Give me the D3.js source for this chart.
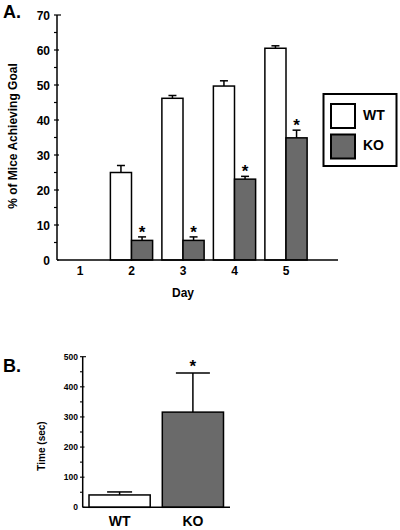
<!DOCTYPE html>
<html><head><meta charset="utf-8">
<script src="https://cdn.jsdelivr.net/npm/d3@7"></script>
<style>body{margin:0;background:#fff}svg{display:block}text{font-family:Arial,"Liberation Sans",Helvetica,sans-serif;font-weight:bold;fill:#000}</style>
</head><body><svg id="c" width="400" height="530"></svg>
<script>
// Panel A data
const days = ["1","2","3","4","5"];
const series = ["WT","KO"];
const wtMean = [0, 25, 46.2, 49.7, 60.5];
const wtErr  = [0, 2, 0.8, 1.5, 0.7];
const koMean = [0, 5.6, 5.6, 23.1, 34.9];
const koErr  = [0, 1, 1, 0.8, 2.2];
const koSig  = [false, true, true, true, true];
const aTicks = [0,10,20,30,40,50,60,70];
const aMinor = [5,15,25,35,45,55,65];
// Panel B data
const groups = ["WT","KO"];
const timeMean = [41, 316];
const timeErr  = [10, 130];
const timeSig  = [false, true];
const bTicks = [0,100,200,300,400,500];
const bMinor = [50,150,250,350,450];

const fills = {WT:"#ffffff", KO:"#6a6a6a"};
const svg = d3.select("#c");

// ---------- Panel A ----------
const A = svg.append("g");
const yA = d3.scaleLinear().domain([0,70]).range([260,15]);
const xA = d3.scaleBand().domain(days).range([54.25,311.75]).paddingInner(0.18).paddingOuter(0.09);
const xAi = d3.scaleBand().domain(series).range([0, xA.bandwidth()]);

A.append("text").attr("x",3).attr("y",18).attr("font-size",18).text("A.");

const rowsA = [];
days.forEach((d,i)=>{
  rowsA.push({day:d, s:"WT", v:wtMean[i], e:wtErr[i], sig:false});
  rowsA.push({day:d, s:"KO", v:koMean[i], e:koErr[i], sig:koSig[i]});
});
const drawnA = rowsA.filter(r=>r.v>0);
// error bars (upper only)
drawnA.forEach(r=>{
  const cx = xA(r.day)+xAi(r.s)+xAi.bandwidth()/2;
  const top = yA(r.v+r.e);
  A.append("line").attr("x1",cx).attr("x2",cx).attr("y1",yA(r.v)).attr("y2",top).attr("stroke","#000").attr("stroke-width",1.5);
  A.append("line").attr("x1",cx-4).attr("x2",cx+4).attr("y1",top).attr("y2",top).attr("stroke","#000").attr("stroke-width",1.5);
  if(r.sig) A.append("text").attr("x",cx).attr("y",top+1).attr("text-anchor","middle").attr("font-size",17).text("*");
});
A.selectAll("rect.bar").data(drawnA).join("rect")
  .attr("x",r=>xA(r.day)+xAi(r.s)).attr("width",xAi.bandwidth())
  .attr("y",r=>yA(r.v)).attr("height",r=>yA(0)-yA(r.v))
  .attr("fill",r=>fills[r.s]).attr("stroke","#000").attr("stroke-width",1.5);

// axes
A.append("line").attr("x1",57).attr("x2",57).attr("y1",yA(70)).attr("y2",yA(0)).attr("stroke","#000").attr("stroke-width",1.5);
A.append("line").attr("x1",57).attr("x2",338).attr("y1",yA(0)).attr("y2",yA(0)).attr("stroke","#000").attr("stroke-width",1.5);
aTicks.forEach(t=>{
  A.append("line").attr("x1",t===0?57:54).attr("x2",t===70?61:59).attr("y1",yA(t)).attr("y2",yA(t)).attr("stroke","#000").attr("stroke-width",1.2);
  A.append("text").attr("x",50).attr("y",yA(t)+4.5).attr("text-anchor","end").attr("font-size",12).text(t);
});
aMinor.forEach(t=>{
  A.append("line").attr("x1",54).attr("x2",57).attr("y1",yA(t)).attr("y2",yA(t)).attr("stroke","#000").attr("stroke-width",1.2);
});
days.forEach(d=>{
  A.append("text").attr("x",xA(d)+xA.bandwidth()/2).attr("y",275).attr("text-anchor","middle").attr("font-size",12).text(d);
});
A.append("text").attr("x",183).attr("y",297).attr("text-anchor","middle").attr("font-size",12).text("Day");
A.append("text").attr("transform","translate(17,136) rotate(-90)").attr("text-anchor","middle").attr("font-size",12).text("% of Mice Achieving Goal");

// legend
const L = A.append("g");
L.append("rect").attr("x",323.5).attr("y",94).attr("width",73).attr("height",72).attr("fill","#fff").attr("stroke","#000").attr("stroke-width",2);
series.forEach((s,i)=>{
  const y0 = 104 + i*30.5;
  L.append("rect").attr("x",331).attr("y",y0).attr("width",24).attr("height",24).attr("fill",fills[s]).attr("stroke","#000").attr("stroke-width",2);
  L.append("text").attr("x",363).attr("y",y0+15.5).attr("font-size",14).text(s);
});

// ---------- Panel B ----------
const B = svg.append("g");
const yB = d3.scaleLinear().domain([0,500]).range([507.3,356.7]);
const xB = d3.scaleBand().domain(groups).range([89,223.5]).paddingInner(0.165).paddingOuter(0);

B.append("text").attr("x",3).attr("y",372).attr("font-size",18).text("B.");

const rowsB = groups.map((g,i)=>({g, v:timeMean[i], e:timeErr[i], sig:timeSig[i]}));
rowsB.forEach(r=>{
  const cx = xB(r.g)+xB.bandwidth()/2;
  const top = yB(r.v+r.e);
  const cw = r.g==="KO"?17:12.5;
  B.append("line").attr("x1",cx).attr("x2",cx).attr("y1",yB(r.v)).attr("y2",top).attr("stroke","#000").attr("stroke-width",1.5);
  B.append("line").attr("x1",cx-cw).attr("x2",cx+cw).attr("y1",top).attr("y2",top).attr("stroke","#000").attr("stroke-width",1.5);
  if(r.sig) B.append("text").attr("x",cx).attr("y",top-0.5).attr("text-anchor","middle").attr("font-size",17).text("*");
});
B.selectAll("rect.bar").data(rowsB).join("rect")
  .attr("x",r=>xB(r.g)).attr("width",xB.bandwidth())
  .attr("y",r=>yB(r.v)).attr("height",r=>yB(0)-yB(r.v))
  .attr("fill",r=>fills[r.g]).attr("stroke","#000").attr("stroke-width",1.5);

B.append("line").attr("x1",82.7).attr("x2",82.7).attr("y1",yB(500)).attr("y2",yB(0)).attr("stroke","#000").attr("stroke-width",1.5);
B.append("line").attr("x1",82.7).attr("x2",230).attr("y1",yB(0)).attr("y2",yB(0)).attr("stroke","#000").attr("stroke-width",1.5);
bTicks.forEach(t=>{
  B.append("line").attr("x1",t===0?82.7:80).attr("x2",t===500?86:84.5).attr("y1",yB(t)).attr("y2",yB(t)).attr("stroke","#000").attr("stroke-width",1.1);
  B.append("text").attr("x",78).attr("y",yB(t)+3).attr("text-anchor","end").attr("font-size",8.5).text(t);
});
bMinor.forEach(t=>{
  B.append("line").attr("x1",80).attr("x2",82.7).attr("y1",yB(t)).attr("y2",yB(t)).attr("stroke","#000").attr("stroke-width",1.1);
});
groups.forEach(g=>{
  B.append("text").attr("x",xB(g)+xB.bandwidth()/2).attr("y",526).attr("text-anchor","middle").attr("font-size",14).text(g);
});
B.append("text").attr("transform","translate(44.5,446) rotate(-90)").attr("text-anchor","middle").attr("font-size",10).text("Time (sec)");
</script></body></html>
